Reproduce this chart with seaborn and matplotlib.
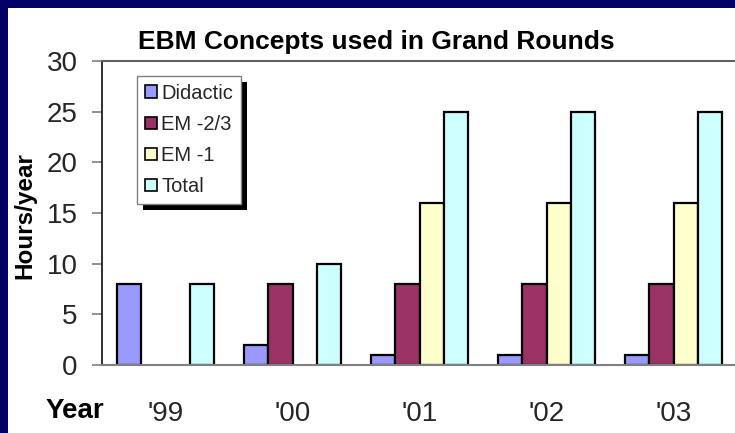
import numpy as np
import pandas as pd
import matplotlib
matplotlib.use("Agg")
import matplotlib.pyplot as plt
from matplotlib.patches import Patch, Rectangle
import seaborn as sns

years = ["'99", "'00", "'01", "'02", "'03"]
series = ["Didactic", "EM -2/3", "EM -1", "Total"]
didactic = [8, 2, 1, 1, 1]
em23 = [np.nan, 8, 8, 8, 8]
em1 = [np.nan, np.nan, 16, 16, 16]
total = [8, 10, 25, 25, 25]
colors = ["#9999FF", "#993366", "#FFFFCC", "#CCFFFF"]
yticks = [0, 5, 10, 15, 20, 25, 30]

rows = []
for s, vals in zip(series, [didactic, em23, em1, total]):
    for y, v in zip(years, vals):
        rows.append({"year": y, "series": s, "hours": v})
df = pd.DataFrame(rows).dropna()

sns.set_theme(style="white")
plt.rcParams["font.family"] = ["Liberation Sans", "DejaVu Sans"]

W, H = 735, 433
fig = plt.figure(figsize=(W / 100, H / 100), dpi=100)
fig.patch.set_facecolor("white")
navy = "#000066"
fig.patches.append(Rectangle((0, 0), 8 / W, 1, transform=fig.transFigure,
                             facecolor=navy, edgecolor="none", zorder=-5))
fig.patches.append(Rectangle((0, 1 - 8 / H), 1, 8 / H, transform=fig.transFigure,
                             facecolor=navy, edgecolor="none", zorder=-5))
fig.patches.append(Rectangle((8 / W, 0), 1, 10 / H, transform=fig.transFigure,
                             facecolor="white", edgecolor="none", zorder=50))
fig.patches.append(Rectangle((1 - 10 / W, 0), 10 / W, 1 - 8 / H, transform=fig.transFigure,
                             facecolor="white", edgecolor="none", zorder=-4))

ax = fig.add_axes([102 / W, 68 / H, 635 / W, 304 / H])
ax.patch.set_visible(False)

sns.barplot(data=df, x="year", y="hours", hue="series", order=years, hue_order=series,
            palette=colors, width=0.76, edgecolor="black", linewidth=1.6,
            errorbar=None, ax=ax, legend=False, saturation=1)

ax.set_xlim(-0.5, 4.5)
ax.set_ylim(0, 30)
ax.set_yticks(yticks)
ax.set_yticklabels([str(t) for t in yticks], fontsize=20)
ax.tick_params(axis="y", direction="out", length=7.5, width=1.2, color="#808080", pad=10, left=True)
ax.tick_params(axis="x", length=0, pad=26, labelsize=20)
ax.set_xlabel("")
ax.set_ylabel("Hours/year", fontsize=17.5, fontweight="bold", color="black")
ax.yaxis.set_label_coords(-0.103, 0.49)

for side in ["left", "bottom", "top"]:
    ax.spines[side].set_visible(True)
ax.spines["left"].set_color("#202020")
ax.spines["left"].set_linewidth(1.3)
ax.spines["bottom"].set_color("#808080")
ax.spines["bottom"].set_linewidth(1.5)
ax.spines["top"].set_color("#606060")
ax.spines["top"].set_linewidth(1.5)
ax.spines["right"].set_visible(False)

fig.text(376 / W, 1 - 42 / H, "EBM Concepts used in Grand Rounds", fontsize=19,
         fontweight="bold", ha="center", va="center", color="black")
fig.text(75 / W, 1 - 411 / H, "Year", fontsize=20, fontweight="bold",
         ha="center", va="center", color="black")

handles = [Patch(facecolor=c, edgecolor="black", linewidth=1.2, label=s)
           for c, s in zip(colors, series)]
leg = ax.legend(handles=handles, loc="upper left", bbox_to_anchor=(0.055, 0.951),
                borderaxespad=0, fontsize=14.5, frameon=True, fancybox=False,
                handlelength=0.6, handleheight=0.6, handletextpad=0.2,
                labelspacing=0.6, borderpad=0.4)
leg.get_frame().set_edgecolor("#808080")
leg.get_frame().set_linewidth(1.0)
leg.get_frame().set_facecolor("white")
leg.get_frame().set_alpha(1)
leg.set_zorder(6)

fig.canvas.draw()
bb = leg.get_window_extent()
ax.add_patch(Rectangle(((bb.x0 + 6) / W, (bb.y0 - 6) / H), bb.width / W, bb.height / H,
                       transform=fig.transFigure, facecolor="black",
                       edgecolor="none", zorder=5, clip_on=False))

fig.savefig("out.png", dpi=100, facecolor="white")
